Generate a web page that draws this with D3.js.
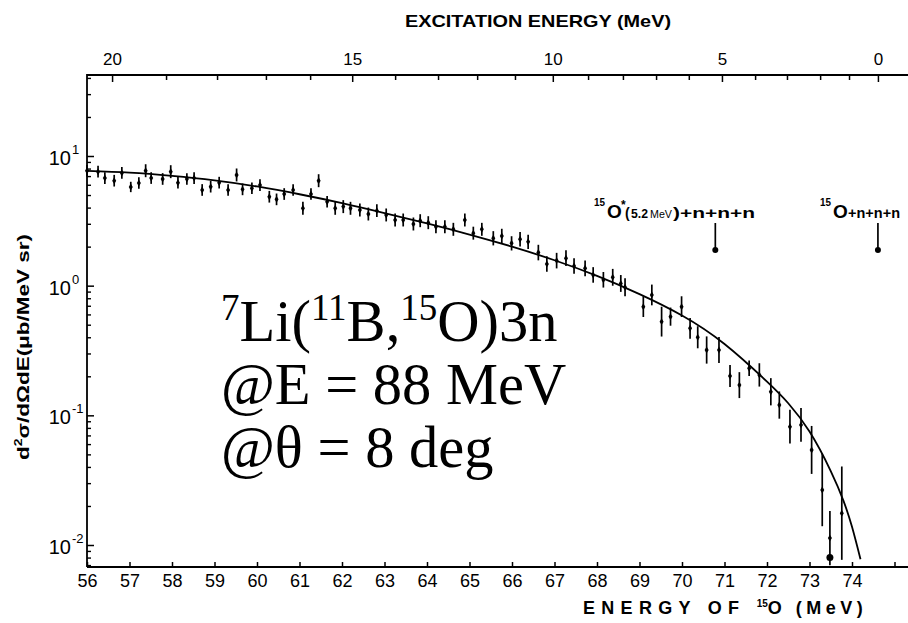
<!DOCTYPE html>
<html><head><meta charset="utf-8">
<script src="https://cdn.jsdelivr.net/npm/d3@7"></script>
<style>body{margin:0;background:#fff}svg{display:block}</style>
</head><body>
<svg id="c" width="908" height="623"></svg>
<script>
// ---- data ----
const energies = [56.00,56.26,56.42,56.64,56.82,57.03,57.22,57.38,57.51,57.78,57.97,58.14,58.35,58.52,58.71,58.91,59.11,59.32,59.52,59.66,59.88,60.07,60.29,60.46,60.64,60.85,61.08,61.27,61.45,61.65,61.84,62.03,62.20,62.42,62.62,62.82,63.04,63.25,63.44,63.68,63.84,64.03,64.21,64.42,64.62,64.89,65.09,65.29,65.56,65.76,65.99,66.19,66.38,66.62,66.82,67.05,67.27,67.46,67.72,67.91,68.15,68.37,68.56,68.66,69.09,69.29,69.52,69.73,69.99,70.19,70.37,70.58,70.87,71.13,71.35,71.58,71.82,72.09,72.29,72.54,72.80,73.05,73.30,73.48,73.76];
const crossSection = [7.70,7.57,6.76,6.45,7.40,5.77,6.19,7.70,6.76,6.65,7.57,6.23,6.65,6.76,5.47,5.80,6.23,5.47,7.14,5.53,5.64,5.97,4.85,4.63,5.09,5.47,3.95,5.09,6.45,4.44,3.95,4.07,3.95,3.83,3.57,3.79,3.51,3.21,3.21,2.99,3.17,3.06,2.85,2.85,2.72,3.21,2.54,2.72,2.32,2.42,2.12,2.28,2.18,1.80,1.47,1.56,1.63,1.42,1.36,1.21,1.11,1.16,1.04,0.972,0.689,0.848,0.528,0.577,0.689,0.469,0.400,0.319,0.319,0.201,0.171,0.231,0.205,0.152,0.120,0.0818,0.0844,0.0541,0.0266,0.0113,0.0176];
const errDex = [0.045,0.045,0.045,0.045,0.045,0.04,0.045,0.05,0.045,0.045,0.05,0.045,0.045,0.045,0.045,0.045,0.045,0.045,0.05,0.045,0.045,0.045,0.045,0.045,0.045,0.045,0.05,0.045,0.05,0.045,0.05,0.05,0.05,0.05,0.05,0.05,0.05,0.05,0.05,0.05,0.05,0.05,0.05,0.05,0.05,0.05,0.05,0.05,0.055,0.055,0.055,0.055,0.055,0.06,0.06,0.06,0.06,0.06,0.06,0.06,0.06,0.065,0.065,0.07,0.08,0.08,0.115,0.07,0.08,0.08,0.085,0.105,0.10,0.085,0.10,0.06,0.09,0.105,0.105,0.13,0.13,0.185,0.28,0.21,0.36];
const limitE = [73.48];
const limitV = [0.0080];

const curveE = [56.0,57.0,58.0,59.0,60.0,61.0,62.0,63.0,64.0,65.0,66.0,67.0,68.0,69.0,70.0,71.0,72.0,72.5,73.0,73.5,73.8,74.0,74.2];
const curveV = [7.69,7.45,7.03,6.49,5.82,5.07,4.33,3.63,3.02,2.48,2.00,1.57,1.19,0.861,0.589,0.355,0.182,0.124,0.075,0.0372,0.0219,0.0138,0.00776];

const bottomTicks = [56,57,58,59,60,61,62,63,64,65,66,67,68,69,70,71,72,73,74,75];
const bottomLabels = ["56","57","58","59","60","61","62","63","64","65","66","67","68","69","70","71","72","73","74",""];
const exTicks = [0,1,2,3,4,5,6,7,8,9,10,11,12,13,14,15,16,17,18,19,20];
const exAtE = [74.61,73.93,73.25,72.47,71.72,70.94,70.16,69.39,68.61,67.79,66.96,66.07,65.18,64.26,63.25,62.24,61.25,60.21,59.06,57.86,56.59];
const exLabels = [0,5,10,15,20];
const yMajor = [0.01,0.1,1,10];
const yMajorExp = ["-2","-1","0","1"];
const yMinor = [0.007,0.008,0.009,0.02,0.03,0.04,0.05,0.06,0.07,0.08,0.09,0.2,0.3,0.4,0.5,0.6,0.7,0.8,0.9,2,3,4,5,6,7,8,9,20,30,40];
const thresholdEx = [5.2, 0];

// ---- layout ----
const L = 87, R = 908, T = 75, B = 567;
const svg = d3.select("#c");
const x = d3.scaleLinear().domain([56, 74]).range([L, 852]);
const y = d3.scaleLog().domain([0.01, 10]).range([545, 156]);
const exScale = d3.scaleLinear().domain(exTicks).range(exAtE);
const font = "'Liberation Sans', Arial, Helvetica, sans-serif";

// frame
svg.append("path").attr("d", `M${L},${B}V${T}H${R}M${L},${B}H${R}`)
  .attr("fill","none").attr("stroke","#000").attr("stroke-width",1.8);

// bottom axis
const xb = svg.append("g").attr("transform",`translate(0,${B})`)
  .call(d3.axisBottom(x).tickValues(bottomTicks).tickSize(-5).tickPadding(7)
    .tickFormat((d,i)=>bottomLabels[i]));
xb.select(".domain").remove();
xb.selectAll("line").attr("stroke-width",1.5);
xb.selectAll("text").attr("font-family",font).attr("font-size",18).attr("fill","#000");

// top axis (excitation energy)
const exPos = d3.scaleLinear().domain(exTicks).range(exAtE.map(e=>x(e)));
const xt = svg.append("g").attr("transform",`translate(0,${T})`)
  .call(d3.axisTop(exPos).tickValues(exTicks).tickSize(-5).tickPadding(10)
    .tickFormat(d=>exLabels.includes(d)?String(d):""));
xt.select(".domain").remove();
xt.selectAll("line").attr("stroke-width",1.5)
  .attr("y2",d=>exLabels.includes(d)?7:5);
xt.selectAll("text").attr("font-family",font).attr("font-size",17).attr("fill","#000");

// left axis
const yl = svg.append("g").attr("transform",`translate(${L},0)`)
  .call(d3.axisRight(y).tickValues(yMinor).tickSize(4).tickFormat(""));
yl.select(".domain").remove();
yl.selectAll("line").attr("stroke-width",1.4);
const ylM = svg.append("g").attr("transform",`translate(${L},0)`)
  .call(d3.axisRight(y).tickValues(yMajor).tickSize(7).tickFormat(""));
ylM.select(".domain").remove();
ylM.selectAll("line").attr("stroke-width",1.5);
const yLab = svg.append("g").attr("font-family",font).attr("fill","#000");
yMajor.forEach((v,i)=>{
  yLab.append("text").attr("x",71).attr("y",y(v)+9)
    .attr("font-size",20).attr("text-anchor","end").text("10");
  yLab.append("text").attr("x",72).attr("y",y(v)-2).attr("font-size",13).text(yMajorExp[i]);
});

// axis titles
svg.append("text").attr("x",538).attr("y",27).attr("text-anchor","middle")
  .attr("font-family",font).attr("font-weight","bold").attr("font-size",17)
  .attr("textLength",266).attr("lengthAdjust","spacingAndGlyphs")
  .text("EXCITATION ENERGY (MeV)");
const bt = svg.append("text").attr("x",583).attr("y",614)
  .attr("font-family",font).attr("font-weight","bold").attr("font-size",18);
bt.append("tspan").attr("letter-spacing",6.3).text("ENERGY OF ");
bt.append("tspan").attr("font-size",10).attr("dy",-7).text("15");
bt.append("tspan").attr("dy",7).attr("letter-spacing",4.5).text("O (MeV)");
const yt = svg.append("text").attr("transform","translate(29,347) rotate(-90)")
  .attr("text-anchor","middle").attr("font-family",font).attr("font-weight","bold")
  .attr("font-size",16).attr("textLength",226).attr("lengthAdjust","spacingAndGlyphs");
yt.append("tspan").text("d");
yt.append("tspan").attr("font-size",10).attr("dy",-7).text("2");
yt.append("tspan").attr("dy",7).text("σ/dΩdE(μb/MeV sr)");

// curve
const line = d3.line().x(d=>x(d[0])).y(d=>y(d[1])).curve(d3.curveNatural);
svg.append("path").datum(curveE.map((e,i)=>[e,curveV[i]]))
  .attr("d",line).attr("fill","none").attr("stroke","#000").attr("stroke-width",1.8);

// data points with error bars
const pts = energies.map((e,i)=>({e, v:crossSection[i], err:errDex[i]}));
const g = svg.append("g");
g.selectAll("line.err").data(pts).join("line").attr("class","err")
  .attr("x1",d=>x(d.e)).attr("x2",d=>x(d.e))
  .attr("y1",d=>Math.min(B, y(d.v*Math.pow(10,-d.err))))
  .attr("y2",d=>y(d.v*Math.pow(10,d.err)))
  .attr("stroke","#000").attr("stroke-width",1.7);
g.selectAll("path.pt").data(pts).join("path").attr("class","pt")
  .attr("transform",d=>`translate(${x(d.e)},${y(d.v)})`)
  .attr("d",d3.symbol().type(d3.symbolDiamond).size(14)).attr("fill","#000");
g.selectAll("circle.lim").data(limitE.map((e,i)=>[e,limitV[i]])).join("circle")
  .attr("class","lim").attr("cx",d=>x(d[0])).attr("cy",d=>y(d[1])).attr("r",3.5).attr("fill","#000");

// thresholds
thresholdEx.forEach(ex=>{
  const xx = x(exScale(ex));
  svg.append("line").attr("x1",xx).attr("x2",xx).attr("y1",223).attr("y2",248)
    .attr("stroke","#000").attr("stroke-width",1.7);
  svg.append("circle").attr("cx",xx).attr("cy",250).attr("r",3).attr("fill","#000");
});
const ann = svg.append("g").attr("font-family",font).attr("font-weight","bold").attr("fill","#000");
function t(xp, yp, size, str, opts){
  const e = ann.append("text").attr("x",xp).attr("y",yp).attr("font-size",size).text(str);
  if (opts && opts.len) e.attr("textLength",opts.len).attr("lengthAdjust","spacingAndGlyphs");
  if (opts && opts.normal) e.attr("font-weight","normal");
  return e;
}
t(594,206,10,"15",{len:11});
t(607,218,19,"O");
t(621,209,12,"*");
t(625,218,14,"(");
t(631,218,13,"5.2",{len:17});
t(650,218,11,"MeV",{normal:true,len:22});
t(673,218,15,")+n+n+n",{len:82});
t(820,206,10,"15",{len:11});
t(833,218,19,"O");
t(848,218,15,"+n+n+n",{len:52});

// reaction text
const serif = "'Liberation Serif','Times New Roman',serif";
const tb = svg.append("g").attr("font-family",serif).attr("font-size",58.5).attr("fill","#000");
const t1 = tb.append("text").attr("x",221).attr("y",341);
t1.append("tspan").attr("font-size",37).attr("dy",-21).text("7");
t1.append("tspan").attr("dy",21).text("Li(");
t1.append("tspan").attr("font-size",37).attr("dy",-21).text("11");
t1.append("tspan").attr("dy",21).text("B,");
t1.append("tspan").attr("font-size",37).attr("dy",-21).text("15");
t1.append("tspan").attr("dy",21).text("O)3n");
tb.append("text").attr("x",221).attr("y",404).text("@E = 88 MeV");
tb.append("text").attr("x",221).attr("y",467).text("@θ = 8 deg");
</script>
</body></html>
